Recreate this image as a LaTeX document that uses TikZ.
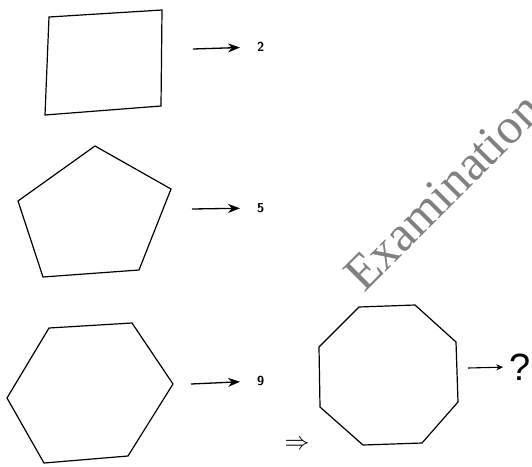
\documentclass[tikz,border=0pt]{standalone}
\usepackage{fontspec}
\newfontfamily\wmfont{Liberation Serif}
\newfontfamily\qfont{Liberation Sans}
\usetikzlibrary{arrows.meta}
\begin{document}
\begin{tikzpicture}[x=1pt,y=-1pt,
  poly/.style={draw=black,line width=1.2pt,line join=miter},
  conn/.style={line width=1.3pt,-{Stealth[length=12pt,width=9pt]}},
  smallconn/.style={line width=1.1pt,-{Stealth[length=7pt,width=6pt]}},
  num/.style={font=\sffamily\bfseries\fontsize{13}{13}\selectfont,inner sep=0pt,anchor=west},
]
\useasboundingbox (0,0) rectangle (532,466);
\clip (0,0) rectangle (532,466);
% watermark text
\node[rotate=45,anchor=base west,text=black!50,font=\wmfont\fontsize{50}{50}\selectfont,inner sep=0pt] (wm) at (364,294) {Examination};
% shapes
\draw[poly] (49,17) -- (162,10) -- (161,106) -- (45,115) -- cycle;
\draw[poly] (95,146) -- (171,189) -- (139,270) -- (43,277) -- (18,201) -- cycle;
\draw[poly] (49,328) -- (132,323) -- (173,384) -- (128,456) -- (44,463) -- (7,398) -- cycle;
\draw[poly] (359,307) -- (415,305) -- (456,342) -- (458,402) -- (422,443) -- (363,445) -- (320,407) -- (319,347) -- cycle;
% labels
\node[num] (n1) at (257,47) {2};
\node[num] (n2) at (257,208) {5};
\node[num] (n3) at (257,381) {9};
\node[inner sep=0pt,font=\qfont\fontsize{38}{38}\selectfont] (q) at (520,367) {?};
\node[inner sep=0pt,font=\fontsize{26}{26}\selectfont] (impl) at (297,445) {$\Rightarrow$};
% arrows
\coordinate (a1) at (193,49);
\coordinate (a2) at (192,209);
\coordinate (a3) at (191,384);
\coordinate (a4) at (468,368);
\draw[conn,shorten >=17pt] (a1) -- (n1.west);
\draw[conn,shorten >=17pt] (a2) -- (n2.west);
\draw[conn,shorten >=17pt] (a3) -- (n3.west);
\draw[smallconn,shorten >=6pt] (a4) -- (q.west);
\end{tikzpicture}
\end{document}
